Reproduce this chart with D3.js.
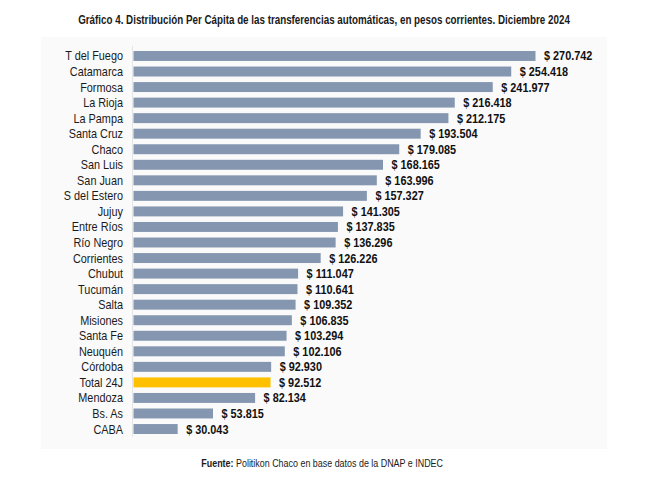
<!DOCTYPE html>
<html lang="es">
  <head>
    <meta charset="UTF-8" />
    <title>Distribución Per Cápita de las transferencias automáticas</title>
    <script src="https://d3js.org/d3.v7.min.js"></script>
    <style>
      body { margin: 0; background: #fff; }
      text { font-family: "Liberation Sans", Arial, sans-serif; }
    </style>
  </head>

  <body>
    <svg width="655" height="485"></svg>

    <script>
      const provincias = [
        "T del Fuego", "Catamarca", "Formosa", "La Rioja", "La Pampa",
        "Santa Cruz", "Chaco", "San Luis", "San Juan", "S del Estero",
        "Jujuy", "Entre Ríos", "Río Negro", "Corrientes", "Chubut",
        "Tucumán", "Salta", "Misiones", "Santa Fe", "Neuquén",
        "Córdoba", "Total 24J", "Mendoza", "Bs. As", "CABA"
      ];
      const valores = [
        270742, 254418, 241977, 216418, 212175,
        193504, 179085, 168165, 163996, 157327,
        141305, 137835, 136296, 126226, 111047,
        110641, 109352, 106835, 103294, 102106,
        92930, 92512, 82134, 53815, 30043
      ];
      const destacado = "Total 24J";

      const svg = d3.select("svg");

      // condensed look: no narrow font installed, so squeeze horizontally
      const condensa = 0.87;

      // fondo del área del gráfico
      svg.append("rect")
        .attr("x", 41).attr("y", 37)
        .attr("width", 566).attr("height", 412)
        .attr("fill", "#fafafa");

      // título
      svg.append("text")
        .attr("transform", "translate(324,24) scale(0.785,1)")
        .attr("text-anchor", "middle")
        .attr("font-size", "12.5px")
        .attr("font-weight", "bold")
        .attr("fill", "#1a1a1a")
        .text("Gráfico 4. Distribución Per Cápita de las transferencias automáticas, en pesos corrientes. Diciembre 2024");

      const x = d3.scaleLinear()
        .domain([0, d3.max(valores)])
        .range([133, 535.5]);

      const y = d3.scaleBand()
        .domain(provincias)
        .range([48.2, 436.8])
        .paddingInner(0.36)
        .paddingOuter(0.18);

      const data = provincias.map((p, i) => ({ nombre: p, valor: valores[i] }));

      // eje vertical tenue
      svg.append("line")
        .attr("x1", 132.5).attr("x2", 132.5)
        .attr("y1", 46).attr("y2", 437)
        .attr("stroke", "#e4e4e4")
        .attr("stroke-width", 1);

      svg.append("g")
        .selectAll("rect")
        .data(data)
        .enter()
        .append("rect")
        .attr("x", x(0) + 0.5)
        .attr("y", d => y(d.nombre))
        .attr("width", d => x(d.valor) - x(0) - 0.5)
        .attr("height", y.bandwidth())
        .attr("fill", d => d.nombre === destacado ? "#ffc000" : "#8496b0");

      // etiquetas de categoría
      svg.append("g")
        .selectAll("text")
        .data(data)
        .enter()
        .append("text")
        .attr("transform", d => `translate(123,${y(d.nombre) + y.bandwidth() / 2}) scale(${condensa},1)`)
        .attr("dy", "0.36em")
        .attr("text-anchor", "end")
        .attr("font-size", "12.5px")
        .attr("fill", "#1a1a1a")
        .text(d => d.nombre);

      // etiquetas de valor
      const fmt = d3.formatLocale({ decimal: ",", thousands: ".", grouping: [3], currency: ["$", ""] }).format(",d");
      svg.append("g")
        .selectAll("text")
        .data(data)
        .enter()
        .append("text")
        .attr("transform", d => `translate(${x(d.valor) + 8.5},${y(d.nombre) + y.bandwidth() / 2}) scale(${condensa},1)`)
        .attr("dy", "0.36em")
        .attr("font-size", "12.5px")
        .attr("font-weight", "bold")
        .attr("fill", "#111")
        .text(d => "$ " + fmt(d.valor));

      // fuente
      const fuente = svg.append("text")
        .attr("transform", "translate(443,467) scale(0.85,1)")
        .attr("text-anchor", "end")
        .attr("font-size", "10.5px")
        .attr("fill", "#1a1a1a");
      fuente.append("tspan").attr("font-weight", "bold").text("Fuente: ");
      fuente.append("tspan").text("Politikon Chaco en base datos de la DNAP e INDEC");
    </script>
  </body>
</html>
